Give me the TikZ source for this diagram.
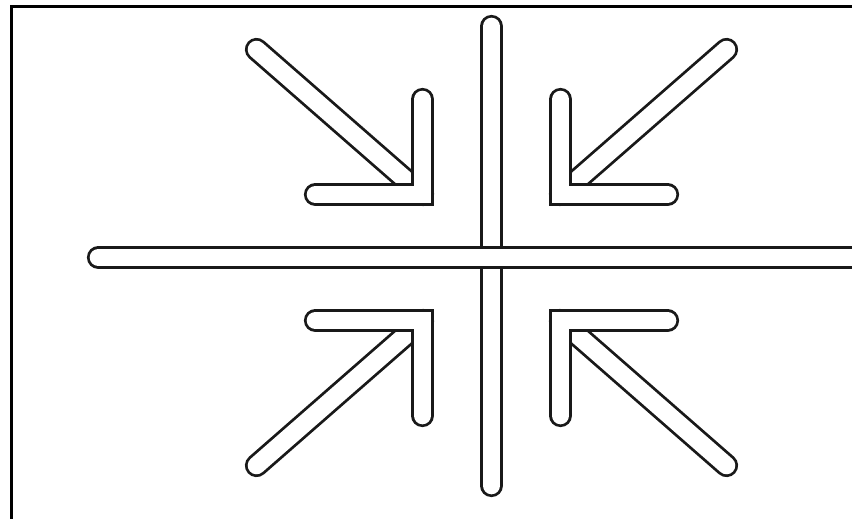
\documentclass[tikz,border=0pt]{standalone}
\usetikzlibrary{positioning}
\begin{document}
\begin{tikzpicture}[x=1pt,y=-1pt]
      \tikzstyle{bar}=[draw=black!90,line width=2.8pt,double=white,double distance=17.6pt,line cap=round,line join=miter]
      \useasboundingbox (0,0) rectangle (852,519);
      \clip (0,0) rectangle (852,519);
      \fill[white] (0,0) rectangle (852,519);
      \coordinate (frameA) at (11,530);
      \coordinate (frameB) at (11,7);
      \coordinate (frameC) at (870,7);
      \draw[line width=3pt] (frameA) -- (frameB) -- (frameC);
      \coordinate (mid) at (491.5,257.5);
      % the two long bars
      \coordinate (vtop) at (491.5,26.5);
      \coordinate (vbot) at (491.5,485.5);
      \coordinate (hleft) at (98.5,257.5);
      \coordinate (hright) at (890,257.5);
      \draw[bar] (vtop) -- (vbot);
      \draw[bar] (hleft) -- (hright);
      % four arrows pointing to the middle
      \foreach \sx/\sy in {-1/-1,1/-1,-1/1,1/1}{
        \begin{scope}[shift={(mid)},xscale=\sx,yscale=\sy]
          \coordinate (tail) at (-235,-208);
          \coordinate (corner) at (-69,-63);
          \coordinate (armv) at (-69,-158);
          \coordinate (armh) at (-176,-63);
          \draw[bar] (tail) -- (corner);
          \draw[bar] (armv) -- (corner) -- (armh);
        \end{scope}
      }
    \end{tikzpicture}
\end{document}
